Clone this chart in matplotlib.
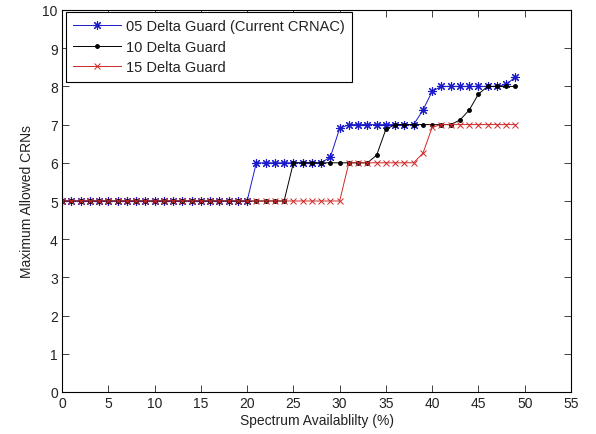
import matplotlib
matplotlib.use("Agg")
import matplotlib.pyplot as plt

plt.rcParams['font.family'] = ['Liberation Sans', 'DejaVu Sans']

x = list(range(0, 50))

# 05 Delta Guard (Current CRNAC)
y05 = ([5]*21 + [6]*8 + [6.15, 6.9] + [7]*8 + [7.38, 7.87] + [8]*7 + [8.05, 8.25])
# 10 Delta Guard
y10 = ([5]*25 + [6]*9 + [6.2, 6.88] + [7]*7 + [7.12, 7.38, 7.8] + [8]*4)
# 15 Delta Guard
y15 = ([5]*31 + [6]*8 + [6.25, 6.93] + [7]*9)

labels = ['05 Delta Guard (Current CRNAC)', '10 Delta Guard', '15 Delta Guard']
xticks = list(range(0, 56, 5))
yticks = list(range(0, 11))

fig = plt.figure(figsize=(5.96, 4.35), dpi=100)
ax = fig.add_axes([62/596, 1-393/435, (571-62)/596, (393-11)/435])

ax.plot(x, y05, color='#1a1ac8', lw=0.7, marker=(8, 2, 0), ms=6.5, mew=0.8, label=labels[0])
ax.plot(x, y10, color='black', lw=0.7, marker='o', ms=2.5, label=labels[1])
ax.plot(x, y15, color='#d02828', lw=0.7, marker='x', ms=4.5, mew=0.7, label=labels[2])

ax.set_xlim(0, 55)
ax.set_ylim(0, 10)
ax.set_xticks(xticks)
ax.set_yticks(yticks)
ax.tick_params(direction='in', top=True, right=True, length=5, width=0.6,
               labelsize=10, colors='#222222', pad=3)
for s in ax.spines.values():
    s.set_linewidth(0.8)
ax.set_xlabel('Spectrum Availablilty (%)', fontsize=10, labelpad=2, color='#222222')
ax.set_ylabel('Maximum Allowed CRNs', fontsize=10, labelpad=6, color='#222222')

leg = ax.legend(loc='upper left', bbox_to_anchor=((66-62)/509, 1-(13-11)/382),
                fontsize=10.5, handlelength=3.3, handletextpad=0.3,
                borderaxespad=0, borderpad=0.5, labelspacing=0.45,
                frameon=True, fancybox=False, edgecolor='black', framealpha=1)
leg.get_frame().set_linewidth(0.8)
for t in leg.get_texts():
    t.set_color('#222222')

fig.savefig('out.png', dpi=100)
